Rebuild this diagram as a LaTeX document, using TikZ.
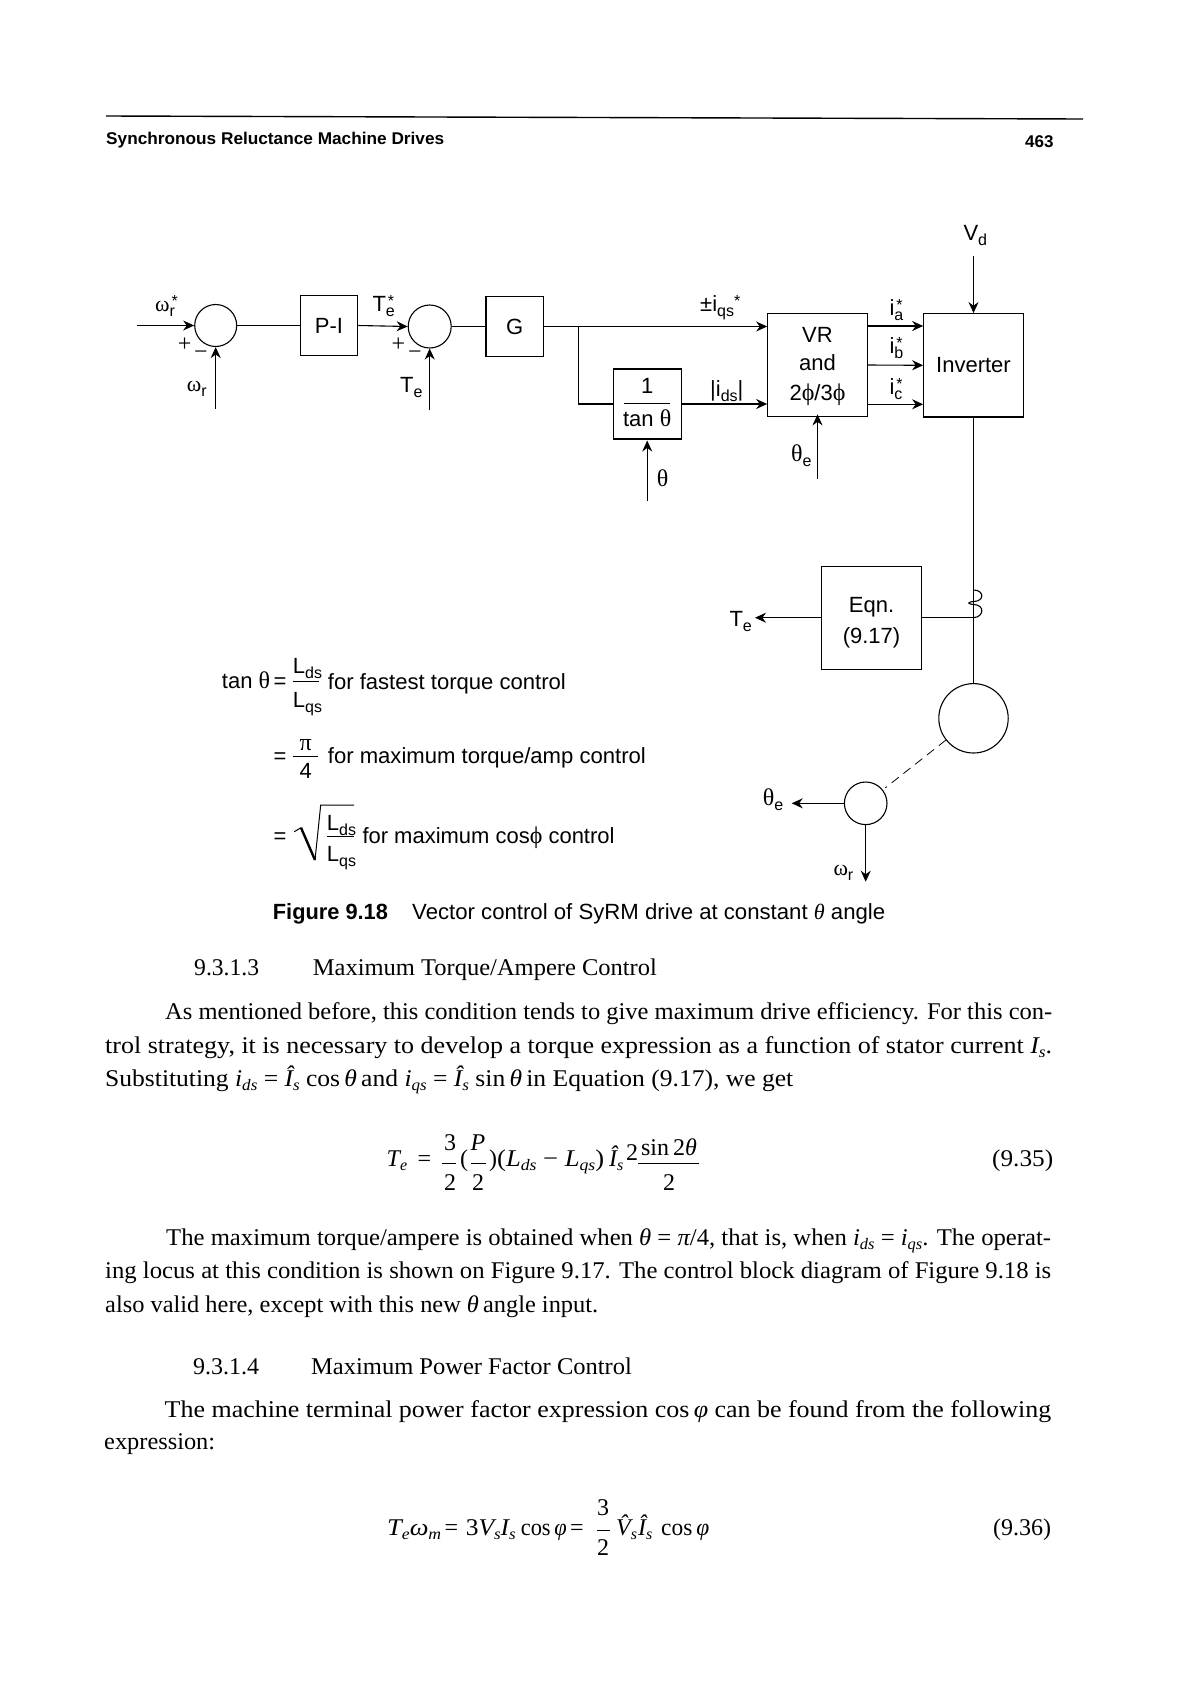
\documentclass[tikz,border=0pt]{standalone}
\usepackage{fontspec}
\usepackage{graphicx}
\usetikzlibrary{arrows.meta}
\setmainfont{Liberation Serif}
\newfontfamily\sfx{Liberation Sans}
\newcommand\gk[1]{{\rmfamily\fontsize{24}{24}\selectfont #1}}
\newcommand\gw[1]{{\rmfamily\fontsize{22}{22}\selectfont #1}}
\newcommand\lsub[1]{\raisebox{-5pt}{\fontsize{16}{16}\selectfont #1}}
\newcommand\lstar[1]{\rlap{\raisebox{-5pt}{\fontsize{16}{16}\selectfont #1}}\kern2pt\raisebox{5pt}{\fontsize{16}{16}\selectfont *}}
\newcommand\vi[1]{{\itshape #1}}
\newcommand\bsub[1]{\raisebox{-4pt}{\fontsize{16}{16}\selectfont\itshape #1}}
\newcommand\tl[5]{\node[txt] (#1) at (#2,#3) {\resizebox{#4pt}{\height}{#5}};}
\newcommand\sfl[5]{\node[lab] (#1) at (#2,#3) {\resizebox{#4pt}{\height}{#5}};}
\tikzset{
  wire/.style={line width=1.1pt,black},
  arr/.style={wire,-{Stealth[length=11pt,width=10pt]}},
  block/.style={draw,line width=1.1pt,inner sep=0pt,font=\sfx\fontsize{22}{26}\selectfont,align=center},
  junc/.style={draw,circle,line width=1.1pt,inner sep=0pt},
  lab/.style={inner sep=0pt,anchor=base west,font=\sfx\fontsize{22}{24}\selectfont},
  labc/.style={inner sep=0pt,anchor=base,font=\sfx\fontsize{22}{24}\selectfont},
  sgn/.style={inner sep=0pt,font=\rmfamily\fontsize{24}{24}\selectfont},
  txt/.style={inner sep=0pt,anchor=base west,font=\rmfamily\fontsize{24}{28}\selectfont},
  txc/.style={inner sep=0pt,anchor=base,font=\rmfamily\fontsize{24}{28}\selectfont},
  bar/.style={line width=1pt}
}
\begin{document}
\begin{tikzpicture}[x=1pt,y=-1pt]
\useasboundingbox (0,0) rectangle (1190,1684);
% header
\coordinate (rl) at (106,116);
\coordinate (rr) at (1083,119);
\draw[line width=1.4pt] (rl) -- (rr);
\node[lab,font=\sfx\bfseries\fontsize{17}{20}\selectfont] (hd) at (106,144) {\resizebox{338pt}{\height}{Synchronous Reluctance Machine Drives}};
\node[lab,font=\sfx\bfseries\fontsize{17}{20}\selectfont] (pg) at (1025,147) {463};
% blocks
\coordinate (inl) at (136.7,325.5);
\node[junc,minimum size=42pt] (s1) at (215.7,325.5) {};
\node[block,minimum width=57.4pt,minimum height=59.3pt] (pi) at (329,325.5) {P-I};
\node[junc,minimum size=43pt] (s2) at (429.7,326.5) {};
\node[block,minimum width=57.4pt,minimum height=59.5pt] (g) at (514.7,326.5) {G};
\node[block,minimum width=67.7pt,minimum height=70pt] (tn) at (647.2,404) {};
\node[block,minimum width=99.6pt,minimum height=103.7pt] (vr) at (817.5,365) {};
\node[block,minimum width=99.6pt,minimum height=103.3pt] (inv) at (973.5,365.3) {Inverter};
\node[block,minimum width=99.6pt,minimum height=103.3pt] (eq) at (871.5,617.7) {};
\node[junc,minimum size=69.4pt] (mot) at (973.5,718.3) {};
\node[junc,minimum size=42.6pt] (sm) at (865.7,803.3) {};
% free ends
\coordinate (j) at (578.7,326.5);
\coordinate (wb) at (215.7,408.7);
\coordinate (tb) at (429.7,410);
\coordinate (thb) at (647.2,500.7);
\coordinate (thet) at (817.5,479);
\coordinate (vdt) at (973.5,255.7);
\coordinate (o1) at (895,326);
\coordinate (o3) at (895,404.3);
\coordinate (jc) at (973.5,617.7);
\coordinate (cb) at (973.5,590);
\coordinate (tea) at (755,617.7);
\coordinate (ttip) at (791.7,803.3);
\coordinate (wtip) at (865.7,881.7);
% connectors
\draw[arr] (inl) -- (s1.west);
\draw[wire] (s1.east) -- (pi.west);
\draw[arr] (pi.east) -- (s2.west);
\draw[wire] (s2.east) -- (g.west);
\draw[arr] (wb) -- (s1.south);
\draw[arr] (tb) -- (s2.south);
\draw[arr] (g.east) -- (vr.west |- g.east);
\draw[wire] (j) |- (tn.west);
\draw[arr] (tn.east) -- (vr.west |- tn.east);
\draw[arr] (thb) -- ([yshift=-1pt]tn.south);
\draw[arr] (thet) -- ([yshift=3pt]vr.south);
\draw[arr] (vr.east |- o1) -- (inv.west |- o1);
\draw[arr] (vr.east) -- (inv.west);
\draw[arr] (vr.east |- o3) -- (inv.west |- o3);
\draw[arr] (vdt) -- (inv.north);
\draw[wire] (inv.south) -- (mot.north);
\draw[wire] (eq.east) -- (jc);
\draw[wire] (jc) .. controls (984,617) and (985,605) .. (974,604.5) .. controls (967,604) and (967,602) .. (974,601.5) .. controls (985,601) and (984,590) .. (cb);
\draw[arr] (eq.west) -- (tea);
\draw[arr] (sm.west) -- (ttip);
\draw[arr] (sm.south) -- (wtip);
\draw[line width=0.8pt,dash pattern=on 9pt off 6pt,shorten >=3pt] (mot) -- (sm);
% signs
\node[sgn] (p1) at (184.7,344.5) {+};
\node[sgn] (m1) at (201,355) {−};
\node[sgn] (p2) at (398.3,345) {+};
\node[sgn] (m2) at (415,355.7) {−};
% diagram labels
\node[lab] (lw1) at (155,311) {\gw{ω}\lstar{r}};
\node[lab] (lw2) at (186.7,391.7) {\gw{ω}\lsub{r}};
\node[lab] (lt1) at (372.3,311.7) {T\lstar{e}};
\node[lab] (lt2) at (400,392.7) {T\lsub{e}};
\node[lab] (liq) at (700,311.7) {±i\lsub{qs}\raisebox{5pt}{\fontsize{16}{16}\selectfont *}};
\node[lab] (lid) at (710,396) {|i\lsub{ds}|};
\node[labc] (l1) at (647.2,393.3) {1};
\draw[bar] (624,403.3) -- (670,403.3);
\node[labc] (ltan) at (647.2,426.7) {tan \gk{θ}};
\node[labc] (lvr) at (817.5,342.3) {VR};
\node[labc] (land) at (817.5,370.7) {and};
\node[labc] (l23) at (817.5,400) {2\gk{ϕ}/3\gk{ϕ}};
\node[lab] (lia) at (889.3,315) {i\lstar{a}};
\node[lab] (lib) at (889.3,353.3) {i\lstar{b}};
\node[lab] (lic) at (889.3,394) {i\lstar{c}};
\node[lab] (lvd) at (963.3,240) {V\lsub{d}};
\node[lab] (lth) at (656.7,486.7) {\gk{θ}};
\node[lab] (lte) at (791,461.7) {\gk{θ}\lsub{e}};
\node[labc] (leq1) at (871.5,612.7) {Eqn.};
\node[labc] (leq2) at (871.5,643.3) {(9.17)};
\node[lab] (lt3) at (729.3,626.7) {T\lsub{e}};
\node[lab] (lte2) at (762.7,805) {\gk{θ}\lsub{e}};
\node[lab] (lw3) at (833.3,875) {\gw{ω}\lsub{r}};
% legend
\node[lab] (g1) at (221.7,688.3) {tan \gk{θ}};
\node[labc] (g1e) at (280,688.3) {=};
\node[lab] (g1a) at (292.7,673) {L\lsub{ds}};
\draw[bar] (292.7,681.7) -- (319.3,681.7);
\node[lab] (g1b) at (292.7,707) {L\lsub{qs}};
\sfl{g1t}{327.7}{689.3}{238}{for fastest torque control}
\node[labc] (g2e) at (280,763.3) {=};
\node[labc] (g2a) at (305.7,750) {\gk{π}};
\draw[bar] (293.3,756) -- (318.3,756);
\node[labc] (g2b) at (305.7,778.3) {4};
\sfl{g2t}{327.7}{763.3}{318}{for maximum torque/amp control}
\node[labc] (g3e) at (280,843.3) {=};
\draw[line width=1pt] (294.3,831.7) -- (301,827.7);
\draw[line width=2.4pt] (301,827.7) -- (315,860);
\draw[line width=1pt] (315,860) -- (320.7,805) -- (354,805);
\node[lab] (g3a) at (326.7,830) {L\lsub{ds}};
\draw[bar] (326.7,836.7) -- (354,836.7);
\node[lab] (g3b) at (326.7,861.5) {L\lsub{qs}};
\sfl{g3t}{362.3}{843.3}{252}{for maximum cos\gk{ϕ} control}
% caption
\node[lab,font=\sfx\bfseries\fontsize{22}{24}\selectfont] (c1) at (272.7,919) {\resizebox{115pt}{\height}{Figure 9.18}};
\sfl{c2}{412}{919}{473}{Vector control of SyRM drive at constant {\rmfamily\itshape θ} angle}
% body
\tl{h1a}{194}{975}{65}{9.3.1.3}
\tl{h1b}{312.7}{975}{344}{Maximum Torque/Ampere Control}
\tl{b1}{165}{1019}{887}{As mentioned before, this condition tends to give maximum drive efficiency. For this con-}
\tl{b2}{105}{1053}{947}{trol strategy, it is necessary to develop a torque expression as a function of stator current \vi{I}\bsub{s}.}
\tl{b3}{105}{1086}{688}{Substituting \vi{i}\bsub{ds} = \vi{Î}\bsub{s} cos\,\vi{θ}\,and \vi{i}\bsub{qs} = \vi{Î}\bsub{s} sin\,\vi{θ}\,in Equation (9.17), we get}
% eq 9.35
\node[txt] (e1) at (386.5,1166) {\vi{T}\bsub{e}};
\node[txt] (e2) at (417.5,1166) {=};
\node[txc] (e3) at (450,1150) {3};
\draw[bar] (442,1163) -- (456,1163);
\node[txc] (e4) at (450,1190.7) {2};
\node[txt] (e5) at (460,1166) {(};
\node[txc] (e6) at (478,1150) {\vi{P}};
\draw[bar] (471,1163) -- (486,1163);
\node[txc] (e7) at (478,1190.7) {2};
\node[txt] (e8) at (489,1166) {)};
\tl{e9}{497}{1166}{107}{(\vi{L}\bsub{ds} − \vi{L}\bsub{qs})}
\node[txt] (e10) at (609,1166) {\vi{Î}\bsub{s}};
\node[txt] (e11) at (626,1160) {2};
\node[txc] (e12) at (669,1155) {sin\,2\vi{θ}};
\draw[bar] (638,1163.5) -- (699,1163.5);
\node[txc] (e13) at (669,1190.7) {2};
\tl{e14}{992}{1166}{61}{(9.35)}
% para 2
\tl{b4}{166}{1245}{885}{The maximum torque/ampere is obtained when \vi{θ} = \vi{π}/4, that is, when \vi{i}\bsub{ds} = \vi{i}\bsub{qs}. The operat-}
\tl{b5}{105}{1278}{946}{ing locus at this condition is shown on Figure 9.17. The control block diagram of Figure 9.18 is}
\tl{b6}{105}{1312.7}{493}{also valid here, except with this new \vi{θ}\,angle input.}
\tl{h2a}{193}{1374}{66}{9.3.1.4}
\tl{h2b}{311}{1374}{320.7}{Maximum Power Factor Control}
\tl{b7}{164.5}{1417}{886.5}{The machine terminal power factor expression cos\,\vi{φ} can be found from the following}
\tl{b8}{104}{1449}{111}{expression:}
% eq 9.36
\tl{f1}{387}{1535}{54}{\vi{T}\bsub{e}\vi{ω}\bsub{m}}
\node[txt] (f2) at (444.5,1535) {=};
\tl{f3}{465.6}{1535}{50}{3\vi{V}\bsub{s}\vi{I}\bsub{s}}
\tl{f4}{520.6}{1535}{46}{cos\,\vi{φ}}
\node[txt] (f5) at (570,1535) {=};
\node[txc] (f6) at (603,1515) {3};
\draw[bar] (597,1530) -- (610,1530);
\node[txc] (f7) at (603,1555) {2};
\node[txt] (f8) at (616,1535) {\vi{V̂}\bsub{s}};
\node[txt] (f9) at (638,1535) {\vi{Î}\bsub{s}};
\tl{f10}{661}{1535}{48}{cos\,\vi{φ}}
\tl{f11}{993}{1535}{58}{(9.36)}
\end{tikzpicture}
\end{document}
